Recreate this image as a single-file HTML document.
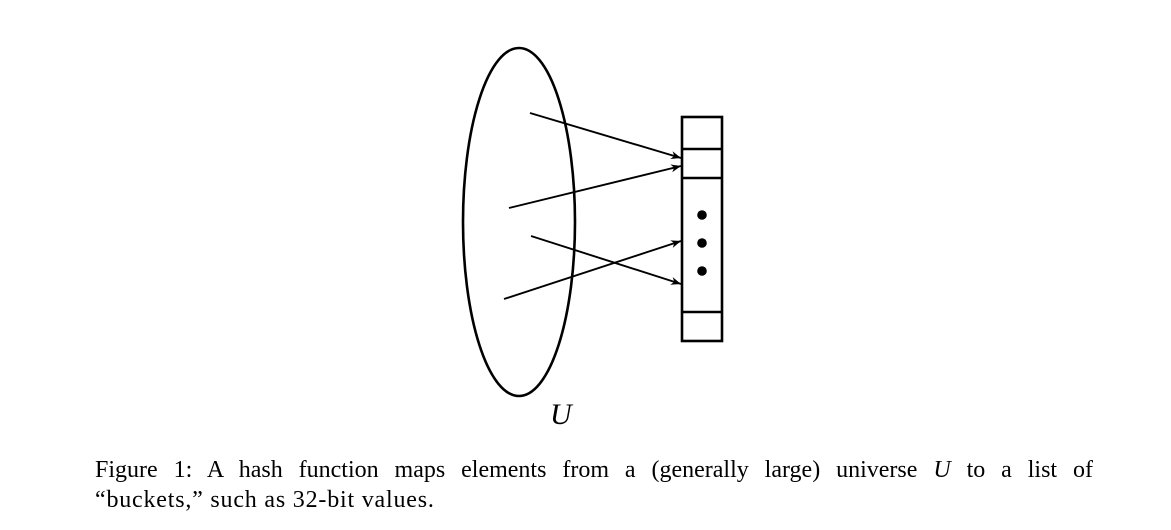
<!DOCTYPE html>
<html><head><meta charset="utf-8"><style>
html,body{margin:0;padding:0;background:#fff;width:1171px;height:530px;overflow:hidden}
.cap{position:absolute;left:95px;width:998px;font-family:"Liberation Serif",serif;font-size:24px;letter-spacing:0.8px;color:#000;line-height:30px}
.l1{top:455px;text-align:justify;text-align-last:justify;letter-spacing:0}
.l2{top:485px}
</style></head><body>
<svg width="1171" height="530" style="position:absolute;left:0;top:0">
<defs><marker id="ah" viewBox="0 0 10 10" refX="10" refY="5" markerWidth="10" markerHeight="10" markerUnits="userSpaceOnUse" orient="auto"><path d="M0,1 L10,5 L0,9 L3,5 Z" fill="#000"/></marker></defs>
<ellipse cx="519" cy="222" rx="56" ry="174" fill="none" stroke="#000" stroke-width="2.6"/>
<text x="550" y="424" font-family="Liberation Serif, serif" font-style="italic" font-size="30">U</text>
<g stroke="#000" stroke-width="2.6" fill="none">
<rect x="682" y="117" width="40" height="224"/>
<line x1="682" y1="149" x2="722" y2="149"/>
<line x1="682" y1="178" x2="722" y2="178"/>
<line x1="682" y1="312" x2="722" y2="312"/>
</g>
<g fill="#000">
<circle cx="702" cy="215" r="4.8"/><circle cx="702" cy="243" r="4.8"/><circle cx="702" cy="271" r="4.8"/>
</g>
<g stroke="#000" stroke-width="1.9">
<line x1="530" y1="113" x2="681" y2="158" marker-end="url(#ah)"/>
<line x1="509" y1="208" x2="681" y2="166" marker-end="url(#ah)"/>
<line x1="531" y1="236" x2="681" y2="284" marker-end="url(#ah)"/>
<line x1="504" y1="299" x2="681" y2="241" marker-end="url(#ah)"/>
</g>
</svg>
<div class="cap l1">Figure 1: A hash function maps elements from a (generally large) universe <i>U</i> to a list of</div>
<div class="cap l2">“buckets,” such as 32-bit values.</div>
</body></html>
